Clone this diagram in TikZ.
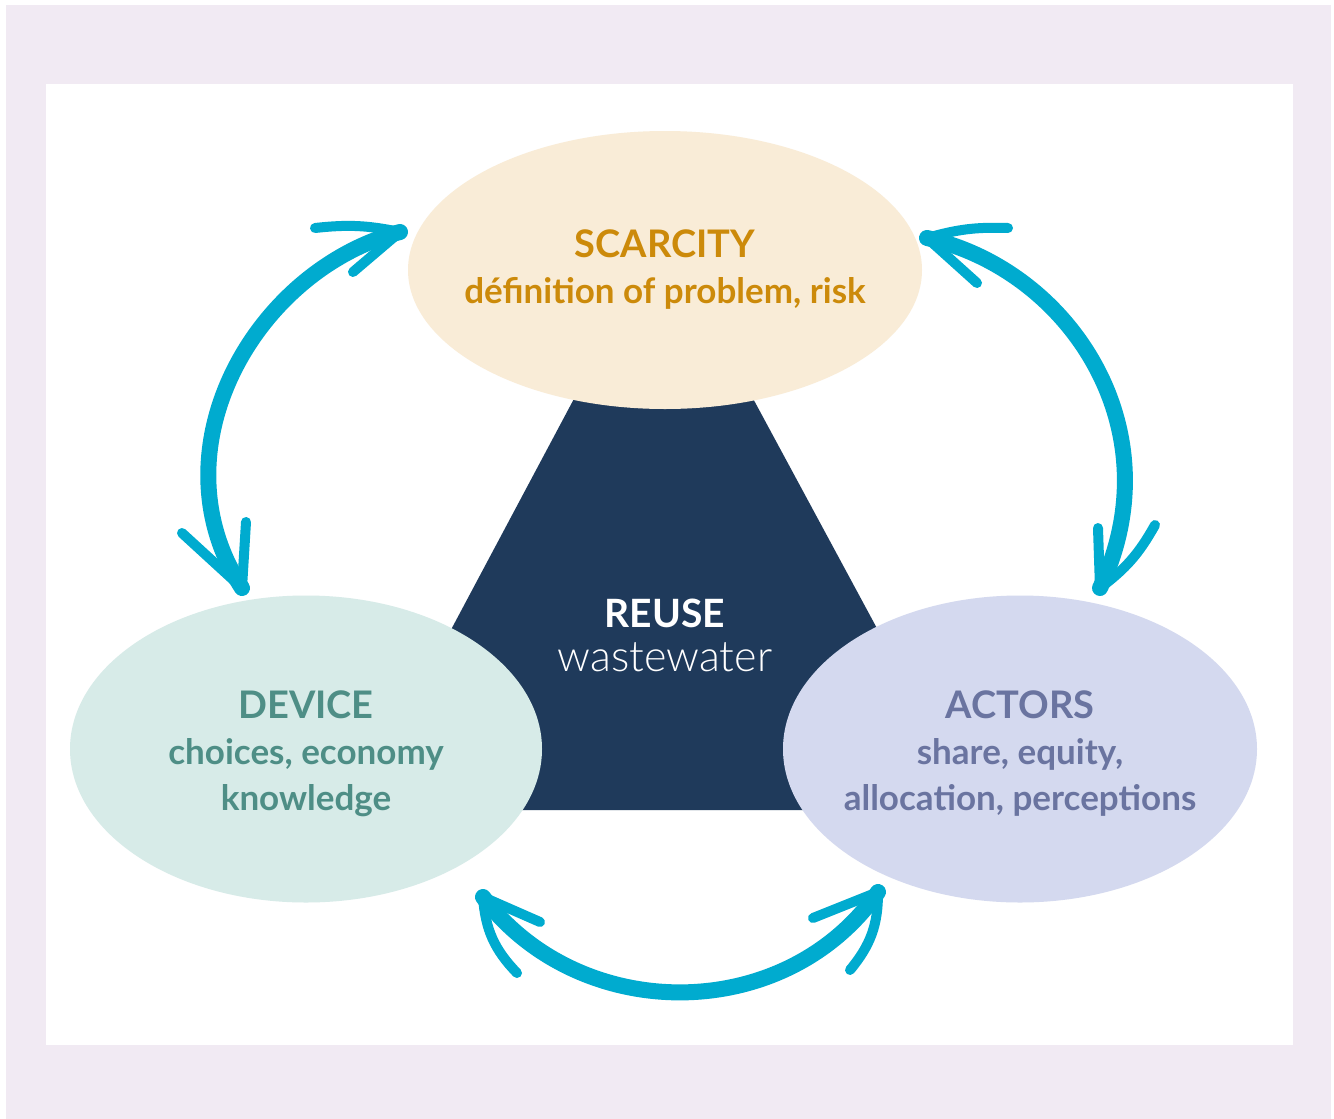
\documentclass[tikz,border=0pt]{standalone}
\usepackage{fontspec}
\setmainfont{Lato}
\newfontfamily\lightfont{Lato Light}
\usetikzlibrary{shapes.geometric}

\definecolor{framecol}{HTML}{F1EAF3}
\definecolor{navy}{HTML}{1F3A5B}
\definecolor{scarfill}{HTML}{F9ECD7}
\definecolor{scartext}{HTML}{CC8A0A}
\definecolor{devfill}{HTML}{D7EBE8}
\definecolor{devtext}{HTML}{4E8E86}
\definecolor{actfill}{HTML}{D4D9EF}
\definecolor{acttext}{HTML}{6A74A0}
\definecolor{flowblue}{HTML}{00ABCF}

\newcommand{\poletitle}[1]{{\fontsize{38}{46}\selectfont #1}}

\tikzset{
  blob/.style={ellipse, inner sep=0pt, outer sep=0pt},
  blobtext/.style={inner sep=0pt, align=center, font=\bfseries\fontsize{35}{46}\selectfont},
  flow/.style={draw=flowblue, line width=16pt, line cap=round},
  barb/.style={draw=flowblue, line width=10pt, line cap=round}
}

\begin{document}
\begin{tikzpicture}[x=1pt, y=-1pt]
      \useasboundingbox (0,0) rectangle (1334,1119);
      \fill[white] (0,0) rectangle (1334,1119);
      \fill[framecol] (6,5) rectangle (1331,1119);
      \fill[white] (46,84) rectangle (1293,1045);

      % centre
      \fill[navy] (584,380) -- (743,380) -- (975,810) -- (355,810) -- cycle;
      \node [inner sep=0, anchor=base, text=white, font=\bfseries\fontsize{39}{46}\selectfont] (reuse) at (665,627) {REUSE};
      \node [inner sep=0, anchor=base, text=white, font=\lightfont\fontsize{43}{46}\selectfont] (waste) at (665,671) {wastewater};

      % the three poles
      \node [blob, fill=scarfill, minimum width=514pt, minimum height=278pt] (scar) at (665,270) {};
      \node [blobtext, text=scartext] (scarT) at (665,270) {\poletitle{SCARCITY}\\définition of problem, risk};

      \node [blob, fill=devfill, minimum width=472pt, minimum height=307pt] (dev) at (306,749) {};
      \node [blobtext, text=devtext] (devT) at (306,754) {\poletitle{DEVICE}\\choices, economy\\knowledge};

      \node [blob, fill=actfill, minimum width=474pt, minimum height=307pt] (act) at (1020,749) {};
      \node [blobtext, text=acttext] (actT) at (1020,754) {\poletitle{ACTORS}\\share, equity,\\allocation, perceptions};

      % arrow ends
      \coordinate (sdL) at (400,232);
      \coordinate (dsL) at (242,588);
      \coordinate (saR) at (927,238);
      \coordinate (asR) at (1100,588);
      \coordinate (daB) at (483,897);
      \coordinate (adB) at (878,892);

      % device <-> scarcity
      \draw [flow] (dsL) .. controls (152,450) and (255,270) .. (sdL);
      \draw [barb] (sdL) to[bend right=9] (315,228);
      \draw [barb] (sdL) to (353,272);
      \draw [barb] (dsL) to (182,533);
      \draw [barb] (dsL) to (246,522);

      % scarcity <-> actors
      \draw [flow] (saR) .. controls (1070,270) and (1175,430) .. (asR);
      \draw [barb] (saR) to[bend left=9] (1008,228);
      \draw [barb] (saR) to (977,283);
      \draw [barb] (asR) to (1098,528);
      \draw [barb] (asR) to[bend right=12] (1155,525);

      % device <-> actors
      \draw [flow] (daB) .. controls (580,1025) and (785,1025) .. (adB);
      \draw [barb] (daB) to (540,922);
      \draw [barb] (daB) to[bend right=20] (517,973);
      \draw [barb] (adB) to (813,918);
      \draw [barb] (adB) to[bend left=20] (850,970);
\end{tikzpicture}
\end{document}
